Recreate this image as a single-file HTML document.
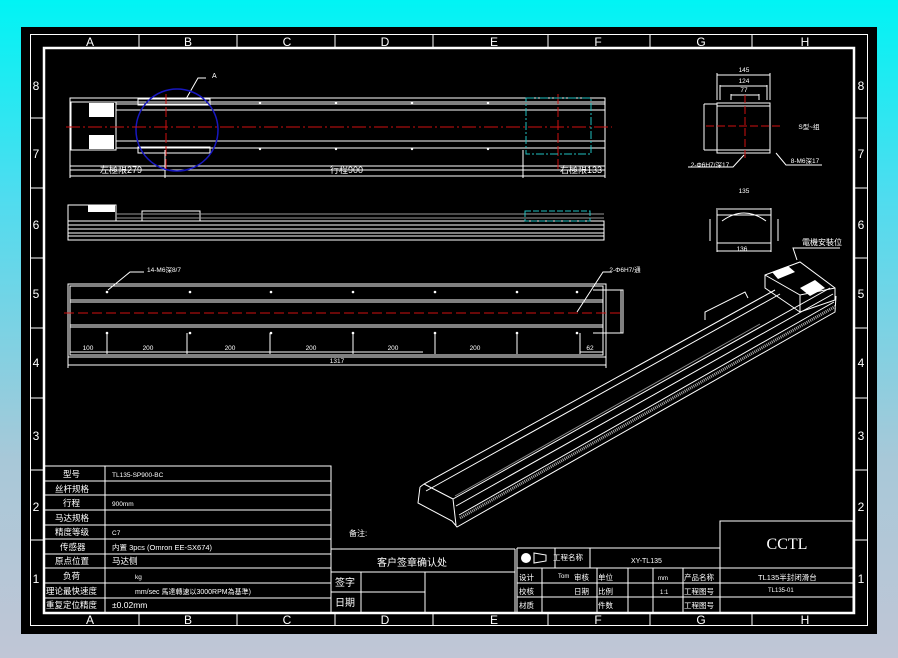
<!DOCTYPE html>
<html><head><meta charset="utf-8"><style>
html,body{margin:0;padding:0;width:898px;height:658px;overflow:hidden;background:linear-gradient(#00f4f4 0%,#4fdcef 30%,#a8c8d8 70%,#c0c6d6 100%);}
svg{position:absolute;left:0;top:0}
text{font-family:"Liberation Sans","Noto Sans CJK SC",sans-serif;fill:#fff}
</style></head><body>
<svg width="898" height="658" viewBox="0 0 898 658" xmlns="http://www.w3.org/2000/svg">
<rect x="21" y="27" width="856" height="607" fill="#000"/>
<g stroke="#fff" fill="none">
<rect x="30.5" y="34.5" width="837" height="591" stroke-width="1"/>
<rect x="44" y="48" width="810" height="565" stroke-width="2.5"/>
<!-- zone ticks -->
<path d="M139 34V48M237 34V48M335 34V48M433 34V48M548 34V48M650 34V48M752 34V48M139 613V626M237 613V626M335 613V626M433 613V626M548 613V626M650 613V626M752 613V626"/>
<path d="M30 118H44M30 188H44M30 258H44M30 328H44M30 398H44M30 470H44M30 540H44M854 118H868M854 188H868M854 258H868M854 328H868M854 398H868M854 470H868M854 540H868"/>
</g>
<g font-size="12" text-anchor="middle">
<text x="90" y="46">A</text><text x="188" y="46">B</text><text x="287" y="46">C</text><text x="385" y="46">D</text><text x="494" y="46">E</text><text x="598" y="46">F</text><text x="701" y="46">G</text><text x="805" y="46">H</text>
<text x="90" y="624">A</text><text x="188" y="624">B</text><text x="287" y="624">C</text><text x="385" y="624">D</text><text x="494" y="624">E</text><text x="598" y="624">F</text><text x="701" y="624">G</text><text x="805" y="624">H</text>
<text x="36" y="90">8</text><text x="36" y="158">7</text><text x="36" y="229">6</text><text x="36" y="298">5</text><text x="36" y="367">4</text><text x="36" y="440">3</text><text x="36" y="511">2</text><text x="36" y="583">1</text>
<text x="861" y="90">8</text><text x="861" y="158">7</text><text x="861" y="229">6</text><text x="861" y="298">5</text><text x="861" y="367">4</text><text x="861" y="440">3</text><text x="861" y="511">2</text><text x="861" y="583">1</text>
</g>

<!-- top view -->
<g stroke="#fff" fill="none" stroke-width="1">
<rect x="70" y="98" width="535" height="72"/>
<rect x="70" y="102" width="535" height="64"/>
<rect x="71" y="102" width="45" height="48"/>
<line x1="116" y1="110" x2="605" y2="110"/><line x1="116" y1="141" x2="605" y2="141"/>
<line x1="116" y1="104" x2="605" y2="104"/><line x1="116" y1="148" x2="605" y2="148"/>
<rect x="138" y="99" width="72" height="6"/><rect x="138" y="147" width="72" height="6"/>
<line x1="70" y1="176" x2="605" y2="176"/><line x1="70" y1="160" x2="70" y2="178"/><line x1="605" y1="160" x2="605" y2="178"/>
<line x1="165" y1="150" x2="165" y2="178"/><line x1="523" y1="150" x2="523" y2="178"/>
<path d="M186 99L198 78L206 78"/>
</g>
<rect x="89" y="103" width="25" height="14" fill="#fff"/><rect x="89" y="135" width="25" height="14" fill="#fff"/>
<g fill="#fff"><circle cx="260" cy="103" r="1.2"/><circle cx="336" cy="103" r="1.2"/><circle cx="412" cy="103" r="1.2"/><circle cx="488" cy="103" r="1.2"/><circle cx="260" cy="149" r="1.2"/><circle cx="336" cy="149" r="1.2"/><circle cx="412" cy="149" r="1.2"/><circle cx="488" cy="149" r="1.2"/></g>
<circle cx="177" cy="130" r="41" stroke="#1818c0" stroke-width="1.5" fill="none"/>
<line x1="66" y1="127" x2="612" y2="127" stroke="#d01010" stroke-dasharray="14 3 2 3"/>
<line x1="166" y1="94" x2="166" y2="170" stroke="#d01010" stroke-dasharray="10 3"/>
<line x1="558" y1="94" x2="558" y2="170" stroke="#d01010" stroke-dasharray="10 3"/>
<rect x="526" y="98" width="65" height="56" stroke="#20c0c0" fill="none" stroke-dasharray="8 2 2 2"/>
<g font-size="9"><text x="100" y="173">左極限279</text><text x="330" y="173">行程900</text><text x="560" y="173">右極限133</text><text x="212" y="78" font-size="7">A</text></g>

<!-- side view -->
<g stroke="#fff" fill="none">
<rect x="68" y="205" width="48" height="16"/><rect x="68" y="221" width="536" height="19"/>
<line x1="68" y1="225" x2="604" y2="225"/><line x1="68" y1="229" x2="604" y2="229"/><line x1="68" y1="233" x2="604" y2="233"/><line x1="68" y1="236" x2="604" y2="236"/>
<rect x="142" y="211" width="58" height="10"/><line x1="116" y1="214" x2="604" y2="214" stroke="#999"/><line x1="116" y1="218" x2="604" y2="218" stroke="#999"/>
<rect x="525" y="211" width="65" height="10" stroke="#20c0c0" stroke-dasharray="6 2"/>
</g>
<rect x="88" y="205" width="27" height="7" fill="#fff"/>

<!-- bottom view -->
<g stroke="#fff" fill="none">
<rect x="68" y="284" width="538" height="73"/><rect x="70" y="286" width="533" height="69"/>
<line x1="70" y1="300" x2="603" y2="300"/><line x1="70" y1="302" x2="603" y2="302"/><line x1="70" y1="325" x2="603" y2="325"/><line x1="70" y1="327" x2="603" y2="327"/>
<line x1="68" y1="365" x2="606" y2="365"/><line x1="68" y1="340" x2="68" y2="368"/><line x1="606" y1="340" x2="606" y2="368"/>
<path d="M70 352H423M107 333V354M187 333V354M270 333V354M353 333V354M435 333V354M517 333V354M580 333V354M603 333V354M580 352H603"/>
<path d="M593 290H623V333H593M621 290V333"/>
<path d="M108 290L130 272H144M577 312L603 272H612"/>
</g>
<g fill="#fff"><circle cx="107" cy="292" r="1.3"/><circle cx="190" cy="292" r="1.3"/><circle cx="271" cy="292" r="1.3"/><circle cx="353" cy="292" r="1.3"/><circle cx="435" cy="292" r="1.3"/><circle cx="517" cy="292" r="1.3"/><circle cx="577" cy="292" r="1.3"/>
<circle cx="107" cy="333" r="1.3"/><circle cx="190" cy="333" r="1.3"/><circle cx="271" cy="333" r="1.3"/><circle cx="353" cy="333" r="1.3"/><circle cx="435" cy="333" r="1.3"/><circle cx="517" cy="333" r="1.3"/><circle cx="577" cy="333" r="1.3"/></g>
<line x1="64" y1="313" x2="622" y2="313" stroke="#d01010" stroke-dasharray="10 4"/>
<g font-size="6.5" text-anchor="middle"><text x="88" y="350">100</text><text x="148" y="350">200</text><text x="230" y="350">200</text><text x="311" y="350">200</text><text x="393" y="350">200</text><text x="475" y="350">200</text><text x="590" y="350">62</text><text x="337" y="363">1317</text>
<text x="164" y="272">14-M6深8/7</text><text x="625" y="272">2-Φ6H7/通</text></g>

<!-- right views -->
<g stroke="#fff" fill="none">
<rect x="717" y="103" width="53" height="50"/><line x1="717" y1="106" x2="770" y2="106"/><line x1="717" y1="150" x2="770" y2="150"/>
<path d="M717 73V100M770 73V100M717 75H770M720 85V100M767 85V100M720 86H767M731 94V100M759 94V100M731 95H759"/>
<path d="M704 104V150M704 104H717M704 150H717"/>
<path d="M744 155L733 167H688M776 153L786 165H822"/>
<rect x="717" y="215" width="54" height="28"/><path d="M717 208V215M771 208V215M718 209H771M710 219V241M778 219V241M717 251H771M717 243V252M771 243V252"/>
<path d="M722 221Q744 205 766 221"/>
<path d="M797 260L793 248H840"/>
</g>
<g stroke="#d01010" fill="none" stroke-dasharray="8 3"><line x1="706" y1="126" x2="780" y2="126"/><line x1="745" y1="95" x2="745" y2="158"/></g>
<g font-size="6.5" text-anchor="middle"><text x="744" y="72">145</text><text x="744" y="83">124</text><text x="744" y="92">77</text><text x="744" y="193">135</text><text x="742" y="251">136</text><text x="809" y="129">S型~组</text><text x="710" y="167">2-Φ6H7/深17</text><text x="805" y="163">8-M6深17</text></g>
<text x="802" y="245" font-size="8">電機安裝位</text>

<!-- isometric -->
<g stroke="#fff" fill="none" stroke-width="1">
<path d="M420 487L424 484L775 290"/>
<path d="M426 491L780 294"/>
<path d="M420 487L418 503L452 521L457 527L835 312L836 296"/>
<path d="M424 484L453 499L456 525"/>
<path d="M453 499L830 288"/>
<path d="M456 506L833 294"/>
<path d="M459 515L834 302"/>
<path d="M765 288V275L800 262L835 288L835 300L800 312L765 288Z"/>
<path d="M765 275L800 295L835 288M800 295V312"/>
<path d="M705 320L705 312L745 292L748 298"/>
</g>
<line x1="460" y1="518" x2="836" y2="306" stroke="#aaa" stroke-width="3" stroke-dasharray="1 1"/>
<line x1="455" y1="496" x2="760" y2="324" stroke="#888"/>
<path d="M772 272L788 266L795 272L778 279Z M800 288L815 280L825 288L810 296Z" fill="#fff"/>

<!-- left table -->
<g stroke="#fff" fill="none">
<rect x="44" y="466" width="287" height="147"/>
<line x1="105" y1="466" x2="105" y2="613"/>
<path d="M44 481H331M44 495H331M44 510H331M44 525H331M44 539H331M44 554H331M44 568H331M44 583H331M44 598H331"/>
<path d="M331 549H515M331 572H515M331 592H425M361 572V613M425 572V613M515 549V613"/>
</g>
<g font-size="8.5">
<text x="63" y="477">型号</text><text x="55" y="492">丝杆规格</text><text x="63" y="506">行程</text><text x="55" y="521">马达规格</text><text x="55" y="535">精度等级</text><text x="60" y="550">传感器</text><text x="55" y="564">原点位置</text><text x="63" y="579">负荷</text><text x="46" y="594">理论最快速度</text><text x="46" y="608">重复定位精度</text>
<text x="112" y="477" font-size="6.5">TL135-SP900-BC</text><text x="112" y="506" font-size="6.5">900mm</text><text x="112" y="535" font-size="6.5">C7</text>
<text x="112" y="550" font-size="7.5">内置 3pcs (Omron EE-SX674)</text><text x="112" y="564">马达侧</text><text x="135" y="579" font-size="6.5">kg</text>
<text x="135" y="594" font-size="7">mm/sec 馬達轉速以3000RPM為基準)</text><text x="112" y="608">±0.02mm</text>
<text x="349" y="536" font-size="8">备注:</text><text x="377" y="566" font-size="10">客户签章确认处</text><text x="335" y="586" font-size="10">签字</text><text x="335" y="606" font-size="10">日期</text>
</g>

<!-- right title block -->
<g stroke="#fff" fill="none">
<rect x="720" y="521" width="133" height="92"/>
<path d="M517 548H720M517 568H853M517 583H853M517 597H853M517 548V613M555 548V568M590 548V568M542 568V613M597 568V613M628 568V613M653 568V613M683 568V613"/>
</g>
<circle cx="526" cy="558" r="5" fill="#fff"/><path d="M534 553L546 555V561L534 563Z" fill="none" stroke="#fff"/>
<text x="787" y="549" font-size="16" text-anchor="middle" style="font-family:'Liberation Serif',serif">CCTL</text>
<g font-size="7.5">
<text x="553" y="560">工程名称</text><text x="631" y="563" font-size="7" >XY-TL135</text>
<text x="519" y="580">设计</text><text x="558" y="578" font-size="6">Tom</text><text x="574" y="580">审核</text><text x="598" y="580">单位</text><text x="658" y="580" font-size="6">mm</text><text x="684" y="580">产品名称</text><text x="758" y="580">TL135半封闭滑台</text>
<text x="519" y="594">校核</text><text x="574" y="594">日期</text><text x="598" y="594">比例</text><text x="660" y="594" font-size="6">1:1</text><text x="684" y="594">工程图号</text><text x="768" y="592" font-size="6">TL135-01</text>
<text x="519" y="608">材质</text><text x="598" y="608">件数</text><text x="684" y="608">工程图号</text>
</g>
</svg>
</body></html>
